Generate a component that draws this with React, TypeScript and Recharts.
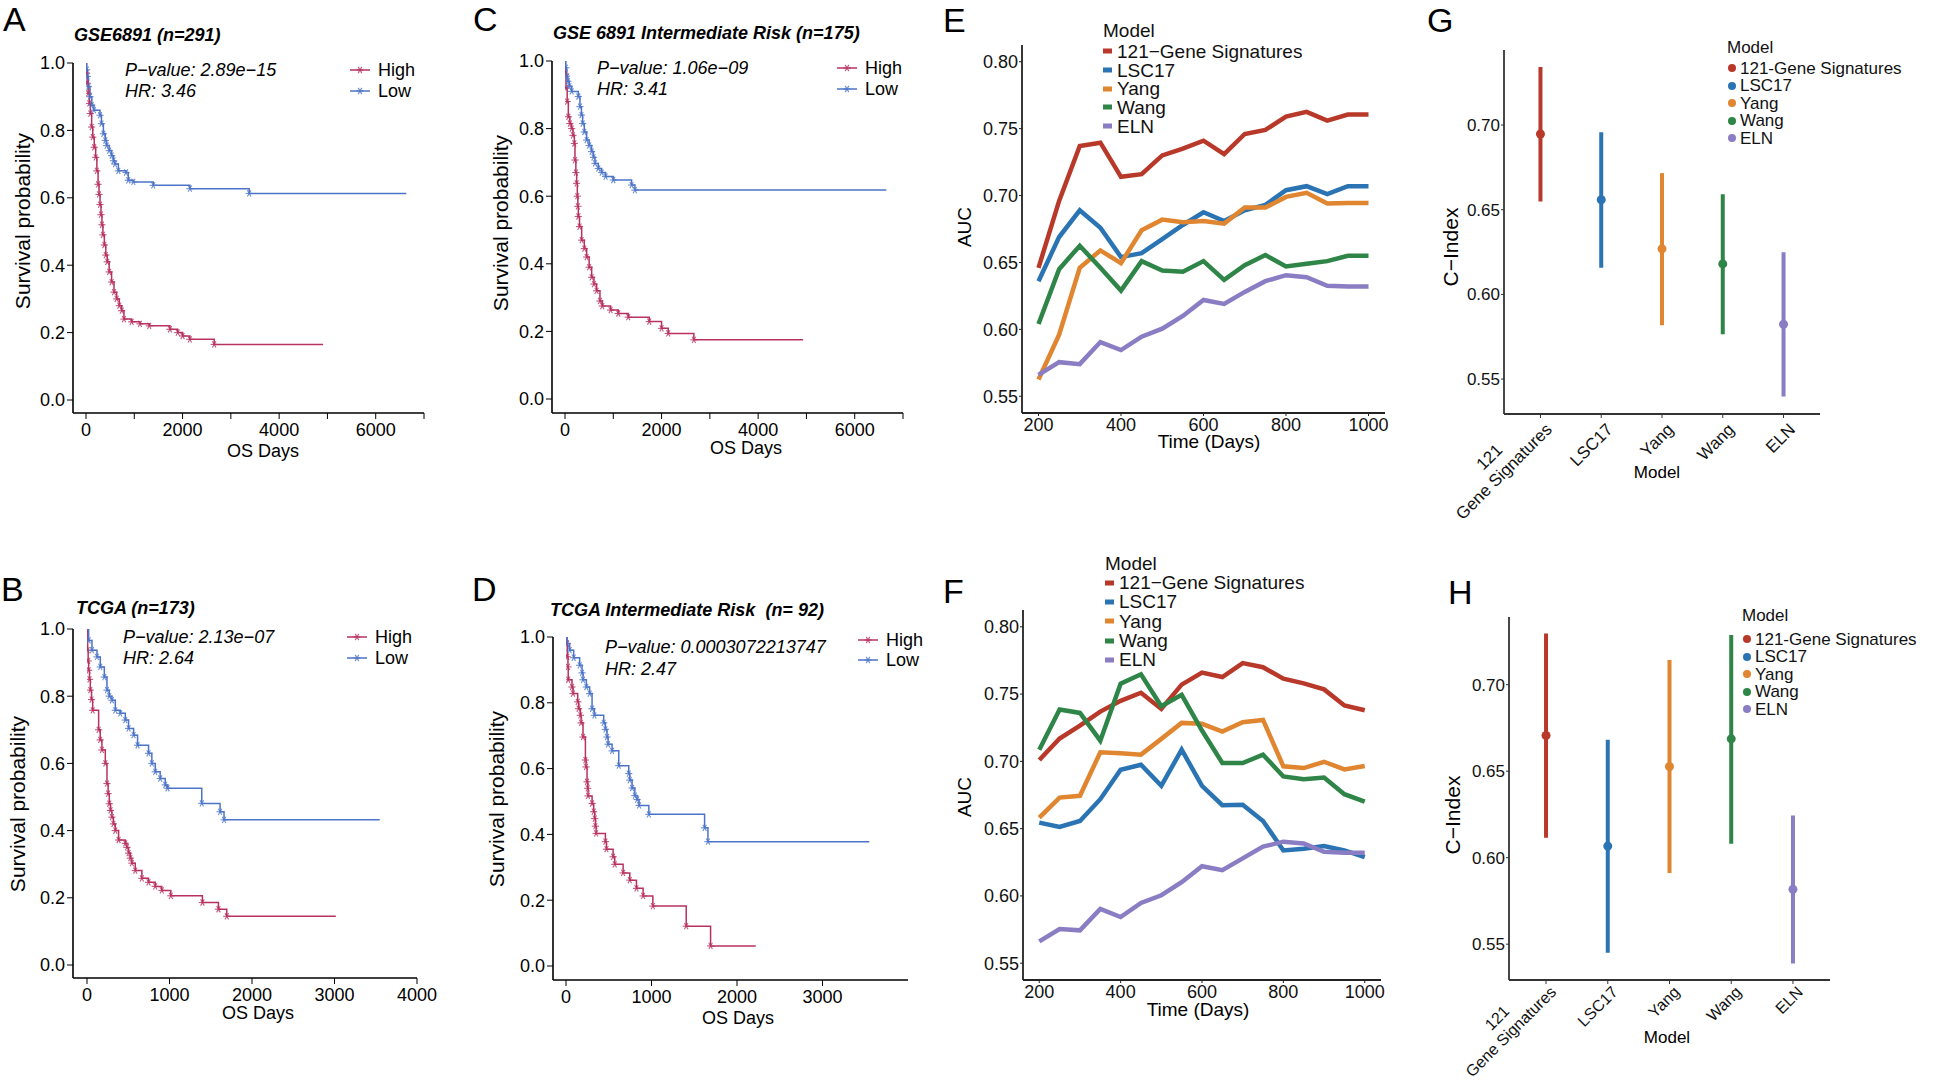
import React from "react";
import {
  LineChart,
  Line,
  XAxis,
  YAxis,
  Legend,
  ScatterChart,
  Scatter,
  ErrorBar,
} from "recharts";

const FONT = "'Liberation Sans', Arial, Helvetica, sans-serif";
const HIGH = "#B8325F";
const LOW = "#4C74C8";
const MODEL_COLORS = ["#B8392A", "#2B74B3", "#E08530", "#2E8547", "#8A7DC4"];

// ---- Kaplan-Meier curves (days, survival) ----
const aHighDays = [0, 10, 25, 45, 69, 90, 117, 140, 170, 200, 225, 250, 270, 290, 310, 330, 350, 380, 410, 440, 480, 530, 580, 635, 690, 740, 786, 945, 1117, 1310, 1738, 1900, 2000, 2150, 2655, 4910];
const aHighSurv = [1, 0.97, 0.94, 0.91, 0.88, 0.85, 0.81, 0.78, 0.75, 0.72, 0.68, 0.64, 0.61, 0.58, 0.55, 0.52, 0.49, 0.46, 0.43, 0.41, 0.38, 0.35, 0.32, 0.3, 0.28, 0.265, 0.24, 0.232, 0.226, 0.22, 0.21, 0.2, 0.19, 0.18, 0.165, 0.165];
const aLowDays = [0, 15, 28, 50, 83, 120, 165, 290, 320, 360, 400, 428, 480, 531, 570, 600, 670, 828, 876, 980, 1393, 2152, 3380, 6634];
const aLowSurv = [1, 0.98, 0.96, 0.93, 0.9, 0.875, 0.86, 0.845, 0.82, 0.79, 0.77, 0.755, 0.74, 0.725, 0.71, 0.7, 0.68, 0.675, 0.652, 0.647, 0.637, 0.627, 0.613, 0.613];

const cHighDays = [0, 10, 21, 45, 69, 100, 138, 165, 193, 207, 225, 241, 255, 266, 276, 300, 345, 400, 448, 500, 552, 600, 655, 724, 772, 945, 1103, 1310, 1745, 2000, 2138, 2669, 4931];
const cHighSurv = [1, 0.96, 0.92, 0.88, 0.835, 0.815, 0.8, 0.78, 0.756, 0.707, 0.67, 0.638, 0.6, 0.57, 0.54, 0.51, 0.47, 0.445, 0.42, 0.39, 0.36, 0.34, 0.32, 0.29, 0.275, 0.263, 0.253, 0.242, 0.229, 0.209, 0.194, 0.175, 0.175];
const cLowDays = [0, 15, 34, 60, 90, 138, 276, 310, 340, 365, 400, 448, 500, 552, 590, 621, 690, 760, 841, 1000, 1379, 1448, 6655];
const cLowSurv = [1, 0.98, 0.955, 0.94, 0.925, 0.91, 0.895, 0.865, 0.84, 0.815, 0.79, 0.766, 0.75, 0.732, 0.715, 0.697, 0.682, 0.67, 0.658, 0.648, 0.633, 0.618, 0.618];

const bHighDays = [0, 8, 14, 20, 30, 40, 55, 69, 141, 160, 181, 222, 242, 256, 270, 285, 302, 320, 343, 383, 464, 484, 504, 525, 544, 585, 665, 746, 827, 907, 1016, 1399, 1593, 1694, 3016];
const bHighSurv = [1, 0.937, 0.905, 0.877, 0.85, 0.818, 0.79, 0.758, 0.7, 0.67, 0.64, 0.6, 0.54, 0.51, 0.48, 0.46, 0.44, 0.42, 0.4, 0.372, 0.362, 0.35, 0.333, 0.318, 0.303, 0.281, 0.258, 0.246, 0.234, 0.222, 0.206, 0.186, 0.166, 0.145, 0.145];
const bLowDays = [0, 20, 60, 121, 161, 210, 242, 270, 302, 343, 403, 464, 504, 565, 613, 746, 786, 827, 887, 948, 976, 1391, 1613, 1661, 3548];
const bLowSurv = [1, 0.966, 0.937, 0.917, 0.887, 0.857, 0.818, 0.8, 0.788, 0.758, 0.749, 0.729, 0.704, 0.684, 0.654, 0.63, 0.6, 0.575, 0.555, 0.536, 0.526, 0.481, 0.456, 0.432, 0.432];

const dHighDays = [0, 12, 15, 23, 26, 70, 82, 137, 148, 168, 176, 199, 227, 234, 246, 254, 258, 305, 324, 336, 344, 352, 461, 473, 551, 570, 668, 746, 824, 902, 1016, 1406, 1691, 2219];
const dHighSurv = [1, 0.98, 0.94, 0.909, 0.87, 0.848, 0.828, 0.803, 0.782, 0.762, 0.739, 0.696, 0.626, 0.605, 0.56, 0.54, 0.517, 0.494, 0.469, 0.448, 0.425, 0.403, 0.378, 0.355, 0.332, 0.309, 0.283, 0.261, 0.236, 0.213, 0.182, 0.121, 0.061, 0.061];
const dLowDays = [0, 12, 43, 90, 160, 188, 199, 238, 277, 305, 332, 441, 461, 480, 492, 539, 617, 734, 746, 773, 805, 832, 855, 969, 1621, 1660, 3547];
const dLowSurv = [1, 0.98, 0.96, 0.937, 0.914, 0.891, 0.87, 0.848, 0.828, 0.782, 0.762, 0.739, 0.719, 0.696, 0.674, 0.654, 0.609, 0.585, 0.565, 0.541, 0.518, 0.506, 0.488, 0.461, 0.42, 0.378, 0.378];

const survTicks = [0, 0.2, 0.4, 0.6, 0.8, 1];

// ---- time-dependent AUC ----
const aucModels = ["121\u2212Gene Signatures", "LSC17", "Yang", "Wang", "ELN"];
const aucDays = [200, 250, 300, 350, 400, 450, 500, 550, 600, 650, 700, 750, 800, 850, 900, 950, 1000];
const eRed = [0.646, 0.696, 0.737, 0.7395, 0.714, 0.716, 0.73, 0.735, 0.741, 0.731, 0.746, 0.749, 0.759, 0.7625, 0.756, 0.7605, 0.7605];
const eBlue = [0.636, 0.669, 0.689, 0.676, 0.654, 0.657, 0.6675, 0.678, 0.6875, 0.681, 0.689, 0.693, 0.704, 0.707, 0.701, 0.707, 0.707];
const eOrange = [0.5625, 0.596, 0.646, 0.659, 0.6495, 0.674, 0.682, 0.68, 0.681, 0.679, 0.691, 0.691, 0.699, 0.702, 0.694, 0.6945, 0.6945];
const eGreen = [0.604, 0.645, 0.6625, 0.646, 0.629, 0.651, 0.644, 0.643, 0.651, 0.637, 0.648, 0.6555, 0.647, 0.649, 0.651, 0.655, 0.655];
const ePurple = [0.566, 0.5755, 0.574, 0.5905, 0.5845, 0.5945, 0.6005, 0.61, 0.622, 0.619, 0.628, 0.636, 0.6405, 0.639, 0.6325, 0.632, 0.632];
const fRed = [0.701, 0.717, 0.7266, 0.737, 0.745, 0.751, 0.739, 0.757, 0.766, 0.7627, 0.773, 0.77, 0.7614, 0.758, 0.7535, 0.7415, 0.738];
const fBlue = [0.6545, 0.6512, 0.6557, 0.6719, 0.6938, 0.6975, 0.6818, 0.7087, 0.6818, 0.6674, 0.6677, 0.6557, 0.6338, 0.635, 0.6371, 0.6338, 0.6289];
const fOrange = [0.6582, 0.6731, 0.6744, 0.7067, 0.706, 0.705, 0.7167, 0.7286, 0.7279, 0.7221, 0.7291, 0.7308, 0.6963, 0.695, 0.6997, 0.694, 0.6965];
const fGreen = [0.7087, 0.7386, 0.736, 0.7154, 0.7577, 0.7647, 0.741, 0.7495, 0.7229, 0.6988, 0.6988, 0.705, 0.6888, 0.6868, 0.688, 0.6756, 0.67];
const fPurple = [0.5662, 0.5754, 0.5744, 0.5903, 0.5843, 0.5948, 0.6005, 0.6102, 0.6221, 0.6191, 0.6279, 0.6366, 0.6403, 0.639, 0.6328, 0.6321, 0.6321];
const aucTicks = [0.55, 0.6, 0.65, 0.7, 0.75, 0.8];

// ---- C-index with 95% CI ----
const cModels = ["121-Gene Signatures", "LSC17", "Yang", "Wang", "ELN"];
const cTickLabels = ["121\nGene Signatures", "LSC17", "Yang", "Wang", "ELN"];
const gMid = [0.6947, 0.6559, 0.6269, 0.618, 0.5824];
const gLo = [0.6549, 0.6157, 0.5818, 0.5765, 0.5398];
const gHi = [0.7343, 0.6957, 0.6716, 0.6592, 0.6249];
const hMid = [0.6706, 0.6067, 0.6527, 0.6687, 0.5817];
const hLo = [0.6115, 0.545, 0.5912, 0.6081, 0.5388];
const hHi = [0.7296, 0.6681, 0.7142, 0.7287, 0.6244];
const cTicks = [0.55, 0.6, 0.65, 0.7];

type KmPt = { t: number; s: number; mark: boolean };
const kmPoints = (days: number[], surv: number[]): KmPt[] =>
  days.map((t, i) => ({ t, s: surv[i], mark: i > 0 && i < days.length - 1 }));

const Star = ({ cx, cy, color }: { cx: number; cy: number; color: string }) => {
  const r = 3.6;
  return (
    <g stroke={color} strokeWidth={1.1} opacity={0.8}>
      <line x1={cx - r} y1={cy} x2={cx + r} y2={cy} />
      <line x1={cx - r * 0.5} y1={cy - r * 0.87} x2={cx + r * 0.5} y2={cy + r * 0.87} />
      <line x1={cx - r * 0.5} y1={cy + r * 0.87} x2={cx + r * 0.5} y2={cy - r * 0.87} />
    </g>
  );
};

const starDot = (color: string) => (p: any) => {
  if (!p || !p.payload || !p.payload.mark || p.cx == null) return <g key={p?.index} />;
  return (
    <g key={p.index}>
      <Star cx={p.cx} cy={p.cy} color={color} />
    </g>
  );
};

const KmLegend = ({ rowH }: { rowH: number }) => (
  <div style={{ fontFamily: FONT, fontSize: 18, lineHeight: 1, color: "#000" }}>
    {[
      ["High", HIGH],
      ["Low", LOW],
    ].map(([name, c]) => (
      <div key={name} style={{ display: "flex", alignItems: "center", height: rowH }}>
        <svg width={20} height={10} style={{ overflow: "visible" }}>
          <line x1={0} y1={5} x2={20} y2={5} stroke={c} strokeWidth={1.5} />
          <Star cx={10} cy={5} color={c} />
        </svg>
        <span style={{ marginLeft: 8 }}>{name}</span>
      </div>
    ))}
  </div>
);

type KmProps = {
  pos: [number, number];
  size: [number, number];
  margin: { top: number; right: number; bottom: number; left: number };
  xMax: number;
  xTicks: number[];
  xShown: number[];
  padX: number;
  padY: number;
  high: KmPt[];
  low: KmPt[];
  legend: [number, number];
  rowH: number;
};

function KmChart(p: KmProps) {
  return (
    <div style={{ position: "absolute", left: p.pos[0], top: p.pos[1] }}>
      <LineChart width={p.size[0]} height={p.size[1]} margin={p.margin}>
        <XAxis
          type="number"
          dataKey="t"
          domain={[0, p.xMax]}
          ticks={p.xTicks}
          interval={0}
          allowDataOverflow
          tickFormatter={(v: number) => (p.xShown.includes(v) ? String(v) : "")}
          padding={{ left: p.padX, right: 0 }}
          height={40}
          tickSize={6}
          tickMargin={4}
          axisLine={{ stroke: "#000", strokeWidth: 1.6 }}
          tickLine={{ stroke: "#000", strokeWidth: 1 }}
          tick={{ fill: "#000", fontSize: 18, fontFamily: FONT }}
        />
        <YAxis
          type="number"
          dataKey="s"
          domain={[0, 1]}
          ticks={survTicks}
          interval={0}
          allowDataOverflow
          tickFormatter={(v: number) => v.toFixed(1)}
          padding={{ top: 0, bottom: p.padY }}
          width={55}
          tickSize={6}
          tickMargin={2}
          axisLine={{ stroke: "#000", strokeWidth: 1.6 }}
          tickLine={{ stroke: "#000", strokeWidth: 1 }}
          tick={{ fill: "#000", fontSize: 18, fontFamily: FONT }}
        />
        <Legend
          layout="vertical"
          align="center"
          verticalAlign="middle"
          content={() => <KmLegend rowH={p.rowH} />}
          wrapperStyle={{ left: p.legend[0], top: p.legend[1], width: "auto", height: "auto" }}
        />
        <Line
          data={p.high}
          dataKey="s"
          type="stepAfter"
          stroke={HIGH}
          strokeWidth={1.5}
          dot={starDot(HIGH)}
          activeDot={false}
          isAnimationActive={false}
        />
        <Line
          data={p.low}
          dataKey="s"
          type="stepAfter"
          stroke={LOW}
          strokeWidth={1.5}
          dot={starDot(LOW)}
          activeDot={false}
          isAnimationActive={false}
        />
      </LineChart>
    </div>
  );
}

const ModelLegend = ({
  names,
  size,
  headH,
  rowH,
  kind,
}: {
  names: string[];
  size: number;
  headH: number;
  rowH: number;
  kind: "dash" | "dot";
}) => (
  <div style={{ fontFamily: FONT, fontSize: size, lineHeight: 1, color: "#111" }}>
    <div style={{ height: headH, display: "flex", alignItems: "center" }}>Model</div>
    {names.map((n, i) => (
      <div key={n} style={{ height: rowH, display: "flex", alignItems: "center" }}>
        {kind === "dash" ? (
          <svg width={10} height={6} style={{ marginRight: 4 }}>
            <rect x={0} y={0.5} width={9} height={5} fill={MODEL_COLORS[i]} />
          </svg>
        ) : (
          <svg width={10} height={10} style={{ marginRight: 3 }}>
            <circle cx={5} cy={5} r={4} fill={MODEL_COLORS[i]} />
          </svg>
        )}
        <span>{n}</span>
      </div>
    ))}
  </div>
);

type AucProps = {
  pos: [number, number];
  size: [number, number];
  margin: { top: number; right: number; bottom: number; left: number };
  series: number[][];
  legend: [number, number];
  headH: number;
  rowH: number;
};

function AucChart(p: AucProps) {
  const data = aucDays.map((d, i) => {
    const row: Record<string, number> = { d };
    p.series.forEach((s, k) => {
      row["m" + k] = s[i];
    });
    return row;
  });
  return (
    <div style={{ position: "absolute", left: p.pos[0], top: p.pos[1] }}>
      <LineChart width={p.size[0]} height={p.size[1]} margin={p.margin} data={data}>
        <XAxis
          type="number"
          dataKey="d"
          domain={[160, 1040]}
          ticks={[200, 400, 600, 800, 1000]}
          interval={0}
          allowDataOverflow
          height={40}
          tickSize={3}
          tickMargin={2}
          axisLine={{ stroke: "#222", strokeWidth: 1.8 }}
          tickLine={{ stroke: "#222" }}
          tick={{ fill: "#111", fontSize: 18, fontFamily: FONT }}
        />
        <YAxis
          type="number"
          domain={[0.5375, 0.8125]}
          ticks={aucTicks}
          interval={0}
          allowDataOverflow
          tickFormatter={(v: number) => v.toFixed(2)}
          width={52}
          tickSize={3}
          tickMargin={1}
          axisLine={{ stroke: "#222", strokeWidth: 1.8 }}
          tickLine={{ stroke: "#222" }}
          tick={{ fill: "#111", fontSize: 18, fontFamily: FONT }}
        />
        <Legend
          layout="vertical"
          align="center"
          verticalAlign="middle"
          content={() => (
            <ModelLegend names={aucModels} size={19} headH={p.headH} rowH={p.rowH} kind="dash" />
          )}
          wrapperStyle={{ left: p.legend[0], top: p.legend[1], width: "auto", height: "auto" }}
        />
        {aucModels.map((m, k) => (
          <Line
            key={m}
            name={m}
            dataKey={"m" + k}
            type="linear"
            stroke={MODEL_COLORS[k]}
            strokeWidth={4.5}
            dot={false}
            activeDot={false}
            isAnimationActive={false}
          />
        ))}
      </LineChart>
    </div>
  );
}

const CTick = (props: any) => {
  const { x, y, payload, fs = 17, dx = 4, dy = 2 } = props;
  const label = cTickLabels[Math.round(payload.value) - 1] ?? "";
  const lines = label.split("\n");
  const main = lines[lines.length - 1];
  // "Gene Signatures" is about 7.5em wide; the first line is centred over it
  const mainW = 7.5 * fs;
  return (
    <g transform={`translate(${x + dx},${y + dy}) rotate(-45)`}>
      <text x={0} y={0} dy="0.71em" textAnchor="end" fontSize={fs} fontFamily={FONT} fill="#111">
        {main}
      </text>
      {lines.length > 1 && (
        <text x={-mainW / 2} y={0} dy="-0.5em" textAnchor="middle" fontSize={fs} fontFamily={FONT} fill="#111">
          {lines[0]}
        </text>
      )}
    </g>
  );
};

type CProps = {
  pos: [number, number];
  size: [number, number];
  margin: { top: number; right: number; bottom: number; left: number };
  mid: number[];
  lo: number[];
  hi: number[];
  yDomain: [number, number];
  xAxisH: number;
  legend: [number, number];
  headH: number;
  tickFs: number;
  tickDx: number;
  tickDy: number;
};

function CIndexChart(p: CProps) {
  return (
    <div style={{ position: "absolute", left: p.pos[0], top: p.pos[1] }}>
      <ScatterChart width={p.size[0]} height={p.size[1]} margin={p.margin}>
        <XAxis
          type="number"
          dataKey="x"
          domain={[0.4, 5.6]}
          ticks={[1, 2, 3, 4, 5]}
          interval={0}
          allowDataOverflow
          height={p.xAxisH}
          tickSize={4}
          tickMargin={2}
          axisLine={{ stroke: "#333", strokeWidth: 1.8 }}
          tickLine={{ stroke: "#333" }}
          tick={<CTick fs={p.tickFs} dx={p.tickDx} dy={p.tickDy} />}
        />
        <YAxis
          type="number"
          dataKey="y"
          domain={p.yDomain}
          ticks={cTicks}
          interval={0}
          allowDataOverflow
          tickFormatter={(v: number) => v.toFixed(2)}
          width={64}
          tickSize={3}
          tickMargin={1}
          axisLine={{ stroke: "#333", strokeWidth: 1.8 }}
          tickLine={{ stroke: "#333" }}
          tick={{ fill: "#111", fontSize: 17, fontFamily: FONT }}
        />
        <Legend
          layout="vertical"
          align="center"
          verticalAlign="middle"
          content={() => (
            <ModelLegend names={cModels} size={17} headH={p.headH} rowH={17.5} kind="dot" />
          )}
          wrapperStyle={{ left: p.legend[0], top: p.legend[1], width: "auto", height: "auto" }}
        />
        {cModels.map((m, k) => (
          <Scatter
            key={m}
            name={m}
            data={[{ x: k + 1, y: p.mid[k], err: [p.mid[k] - p.lo[k], p.hi[k] - p.mid[k]] }]}
            fill={MODEL_COLORS[k]}
            isAnimationActive={false}
            shape={(s: any) => <circle cx={s.cx} cy={s.cy} r={4.5} fill={MODEL_COLORS[k]} />}
          >
            <ErrorBar
              dataKey="err"
              direction="y"
              width={0}
              stroke={MODEL_COLORS[k]}
              strokeWidth={4}
              isAnimationActive={false}
            />
          </Scatter>
        ))}
      </ScatterChart>
    </div>
  );
}

const Txt = ({
  x,
  y,
  size = 18,
  anchor = "start",
  rotate = 0,
  bold = false,
  italic = false,
  lh = 1,
  children,
}: {
  x: number;
  y: number;
  size?: number;
  anchor?: "start" | "middle";
  rotate?: number;
  bold?: boolean;
  italic?: boolean;
  lh?: number;
  children: React.ReactNode;
}) => (
  <div
    style={{
      position: "absolute",
      left: x,
      top: y,
      fontSize: size,
      lineHeight: lh,
      whiteSpace: "nowrap",
      fontWeight: bold ? 700 : 400,
      fontStyle: italic ? "italic" : "normal",
      color: "#000",
      transform: `translate(${anchor === "middle" ? "-50%" : "0"},-50%)${rotate ? ` rotate(${rotate}deg)` : ""}`,
    }}
  >
    {children}
  </div>
);

const Letter = ({ x, y, children }: { x: number; y: number; children: React.ReactNode }) => (
  <Txt x={x} y={y} size={34} lh={0.75}>
    {children}
  </Txt>
);

export default function App() {
  return (
    <div
      style={{
        position: "absolute",
        left: 0,
        top: 0,
        width: 1946,
        height: 1084,
        background: "#fff",
        fontFamily: FONT,
        overflow: "hidden",
      }}
    >
      <KmChart
        pos={[0, 0]}
        size={[440, 470]}
        margin={{ top: 63, right: 16, bottom: 17, left: 18 }}
        xMax={7000}
        xTicks={[0, 1000, 2000, 3000, 4000, 5000, 6000, 7000]}
        xShown={[0, 2000, 4000, 6000]}
        padX={13}
        padY={13}
        high={kmPoints(aHighDays, aHighSurv)}
        low={kmPoints(aLowDays, aLowSurv)}
        legend={[350, 59.5]}
        rowH={21}
      />
      <KmChart
        pos={[0, 530]}
        size={[440, 500]}
        margin={{ top: 99, right: 23, bottom: 12, left: 18 }}
        xMax={4000}
        xTicks={[0, 1000, 2000, 3000, 4000]}
        xShown={[0, 1000, 2000, 3000, 4000]}
        padX={14}
        padY={13}
        high={kmPoints(bHighDays, bHighSurv)}
        low={kmPoints(bLowDays, bLowSurv)}
        legend={[347, 96.5]}
        rowH={21}
      />
      <KmChart
        pos={[440, 0]}
        size={[470, 470]}
        margin={{ top: 61, right: 7, bottom: 17, left: 57 }}
        xMax={7000}
        xTicks={[0, 1000, 2000, 3000, 4000, 5000, 6000, 7000]}
        xShown={[0, 2000, 4000, 6000]}
        padX={13}
        padY={14}
        high={kmPoints(cHighDays, cHighSurv)}
        low={kmPoints(cLowDays, cLowSurv)}
        legend={[397, 57.5]}
        rowH={21}
      />
      <KmChart
        pos={[440, 530]}
        size={[480, 500]}
        margin={{ top: 107, right: 12, bottom: 10, left: 58 }}
        xMax={4000}
        xTicks={[0, 1000, 2000, 3000]}
        xShown={[0, 1000, 2000, 3000]}
        padX={13}
        padY={14}
        high={kmPoints(dHighDays, dHighSurv)}
        low={kmPoints(dLowDays, dLowSurv)}
        legend={[418, 100]}
        rowH={20}
      />

      <AucChart
        pos={[940, 0]}
        size={[460, 470]}
        margin={{ top: 45, right: 15, bottom: 17, left: 30 }}
        series={[eRed, eBlue, eOrange, eGreen, ePurple]}
        legend={[163, 18]}
        headH={24}
        rowH={18.7}
      />
      <AucChart
        pos={[940, 530]}
        size={[460, 500]}
        margin={{ top: 80, right: 19, bottom: 10, left: 31 }}
        series={[fRed, fBlue, fOrange, fGreen, fPurple]}
        legend={[165, 23]}
        headH={20}
        rowH={19.3}
      />

      <CIndexChart
        pos={[1400, 0]}
        size={[546, 530]}
        margin={{ top: 50, right: 126, bottom: 6, left: 40 }}
        mid={gMid}
        lo={gLo}
        hi={gHi}
        yDomain={[0.5294, 0.7443]}
        xAxisH={110}
        legend={[327, 34.75]}
        headH={24.5}
        tickFs={17}
        tickDx={4}
        tickDy={2}
      />
      <CIndexChart
        pos={[1400, 560]}
        size={[546, 524]}
        margin={{ top: 57, right: 116, bottom: 4, left: 45 }}
        mid={hMid}
        lo={hLo}
        hi={hHi}
        yDomain={[0.5293, 0.7391]}
        xAxisH={100}
        legend={[342, 39.75]}
        headH={30.5}
        tickFs={16}
        tickDx={3}
        tickDy={-1}
      />

      {/* panel letters */}
      <Letter x={3} y={20}>A</Letter>
      <Letter x={1} y={590}>B</Letter>
      <Letter x={473} y={20}>C</Letter>
      <Letter x={472} y={590}>D</Letter>
      <Letter x={943} y={21}>E</Letter>
      <Letter x={943} y={592}>F</Letter>
      <Letter x={1427} y={21}>G</Letter>
      <Letter x={1448} y={593}>H</Letter>

      {/* KM titles and stats */}
      <Txt x={74} y={35} bold italic>GSE6891 (n=291)</Txt>
      <Txt x={553} y={33} bold italic>GSE 6891 Intermediate Risk (n=175)</Txt>
      <Txt x={76} y={608} bold italic>TCGA (n=173)</Txt>
      <Txt x={550} y={610} bold italic>TCGA Intermediate Risk&nbsp; (n= 92)</Txt>

      <Txt x={125} y={70} italic>P{"\u2212"}value: 2.89e{"\u2212"}15</Txt>
      <Txt x={125} y={91} italic>HR: 3.46</Txt>
      <Txt x={123} y={637} italic>P{"\u2212"}value: 2.13e{"\u2212"}07</Txt>
      <Txt x={123} y={658} italic>HR: 2.64</Txt>
      <Txt x={597} y={68} italic>P{"\u2212"}value: 1.06e{"\u2212"}09</Txt>
      <Txt x={597} y={89} italic>HR: 3.41</Txt>
      <Txt x={605} y={647} italic>P{"\u2212"}value: 0.0003072213747</Txt>
      <Txt x={605} y={669} italic>HR: 2.47</Txt>

      {/* axis titles */}
      <Txt x={22} y={221} size={21} anchor="middle" rotate={-90}>Survival probability</Txt>
      <Txt x={17} y={804} size={21} anchor="middle" rotate={-90}>Survival probability</Txt>
      <Txt x={500} y={223} size={21} anchor="middle" rotate={-90}>Survival probability</Txt>
      <Txt x={496} y={799} size={21} anchor="middle" rotate={-90}>Survival probability</Txt>
      <Txt x={263} y={451} anchor="middle" lh={0.9}>OS Days</Txt>
      <Txt x={258} y={1013} anchor="middle" lh={0.9}>OS Days</Txt>
      <Txt x={746} y={448} anchor="middle" lh={0.9}>OS Days</Txt>
      <Txt x={738} y={1018} anchor="middle" lh={0.9}>OS Days</Txt>

      <Txt x={964} y={227} size={19} anchor="middle" rotate={-90}>AUC</Txt>
      <Txt x={964} y={797} size={19} anchor="middle" rotate={-90}>AUC</Txt>
      <Txt x={1209} y={442} size={19} anchor="middle" lh={0.9}>Time (Days)</Txt>
      <Txt x={1198} y={1010} size={19} anchor="middle" lh={0.9}>Time (Days)</Txt>

      <Txt x={1450} y={247} size={21} anchor="middle" rotate={-90}>C{"\u2212"}Index</Txt>
      <Txt x={1452} y={815} size={21} anchor="middle" rotate={-90}>C{"\u2212"}Index</Txt>
      <Txt x={1657} y={472} size={17} anchor="middle">Model</Txt>
      <Txt x={1667} y={1037} size={17} anchor="middle">Model</Txt>
    </div>
  );
}
